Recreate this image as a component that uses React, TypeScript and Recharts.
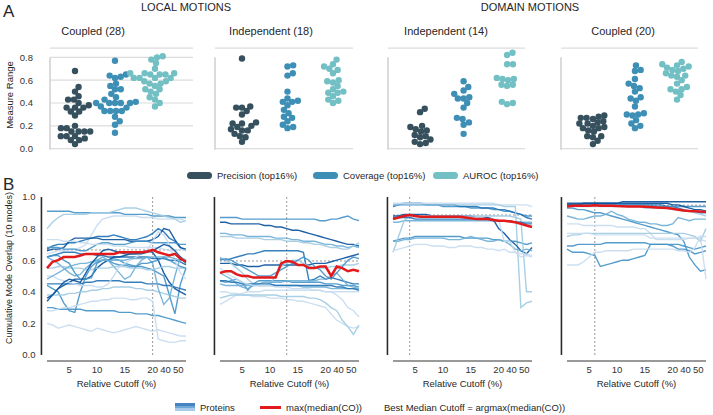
import React from 'react'
import {
  ScatterChart,
  Scatter,
  LineChart,
  Line,
  XAxis,
  YAxis,
  CartesianGrid,
  ReferenceLine,
  Label,
} from 'recharts'

// ---- panel A: measure ranges per protein (beeswarm) ----
const metricNames = ['Precision (top16%)', 'Coverage (top16%)', 'AUROC (top16%)']
const metricColors = ['#36505e', '#3d8fb5', '#72bfc4']
const panelTitles = ['Coupled (28)', 'Independent (18)', 'Independent (14)', 'Coupled (20)']
const topTicks = [0, 0.2, 0.4, 0.6, 0.8]

const localCoupledPrecision = [0.68, 0.54, 0.5, 0.46, 0.43, 0.43, 0.4, 0.38, 0.36, 0.36, 0.36, 0.325, 0.325, 0.29, 0.2, 0.18, 0.18, 0.15, 0.15, 0.15, 0.15, 0.11, 0.11, 0.11, 0.09, 0.075, 0.075, 0.04]
const localCoupledCoverage = [0.77, 0.65, 0.64, 0.63, 0.62, 0.57, 0.55, 0.52, 0.52, 0.48, 0.45, 0.43, 0.41, 0.4, 0.4, 0.4, 0.4, 0.4, 0.37, 0.36, 0.33, 0.33, 0.33, 0.33, 0.28, 0.24, 0.21, 0.14]
const localCoupledAuroc = [0.81, 0.8, 0.78, 0.75, 0.7, 0.66, 0.66, 0.66, 0.65, 0.65, 0.65, 0.62, 0.62, 0.62, 0.62, 0.59, 0.59, 0.57, 0.57, 0.55, 0.52, 0.52, 0.5, 0.48, 0.45, 0.43, 0.4, 0.37]

const localIndepPrecision = [0.79, 0.37, 0.36, 0.36, 0.33, 0.3, 0.23, 0.22, 0.22, 0.2, 0.19, 0.17, 0.16, 0.16, 0.13, 0.11, 0.1, 0.06]
const localIndepCoverage = [0.73, 0.72, 0.66, 0.64, 0.5, 0.44, 0.42, 0.41, 0.41, 0.38, 0.34, 0.31, 0.28, 0.27, 0.24, 0.21, 0.19, 0.18]
const localIndepAuroc = [0.78, 0.74, 0.72, 0.7, 0.69, 0.66, 0.6, 0.59, 0.58, 0.55, 0.52, 0.5, 0.49, 0.49, 0.46, 0.43, 0.42, 0.4]

const domainIndepPrecision = [0.35, 0.32, 0.2, 0.19, 0.17, 0.16, 0.15, 0.12, 0.11, 0.1, 0.08, 0.06, 0.05, 0.04]
const domainIndepCoverage = [0.59, 0.54, 0.51, 0.48, 0.45, 0.44, 0.44, 0.4, 0.36, 0.27, 0.26, 0.23, 0.21, 0.13]
const domainIndepAuroc = [0.84, 0.82, 0.74, 0.74, 0.62, 0.61, 0.61, 0.6, 0.56, 0.56, 0.55, 0.41, 0.4, 0.39]

const domainCoupledPrecision = [0.29, 0.28, 0.27, 0.27, 0.26, 0.24, 0.23, 0.22, 0.22, 0.2, 0.19, 0.18, 0.18, 0.16, 0.15, 0.11, 0.11, 0.1, 0.07, 0.04]
const domainCoupledCoverage = [0.73, 0.69, 0.68, 0.61, 0.57, 0.55, 0.53, 0.5, 0.45, 0.44, 0.42, 0.37, 0.31, 0.3, 0.3, 0.29, 0.25, 0.22, 0.2, 0.18]
const domainCoupledAuroc = [0.76, 0.74, 0.73, 0.72, 0.71, 0.7, 0.69, 0.68, 0.66, 0.64, 0.64, 0.63, 0.6, 0.57, 0.54, 0.52, 0.52, 0.5, 0.47, 0.43]

// ---- panel B: cumulative mode overlap vs relative cutoff (values in %) ----
const cutoffTickIndex = [4, 9, 14, 19, 21.3, 23.6]
const cutoffTickLabels = ['5', '10', '15', '20', '40', '50']
const bottomTicks = [0, 0.2, 0.4, 0.6, 0.8, 1]
const blues = ['#c6dbef', '#9ecae1', '#6baed6', '#4292c6', '#2171b5', '#08519c']

const localCoupledLines = [
  [91, 91, 91, 91, 91, 90, 90, 90, 90, 90, 90, 90, 90, 90, 89, 89, 89, 89, 89, 88, 88, 88, 88, 87, 87, 87],
  [80, 84, 87, 89, 89, 89, 89, 89, 90, 90, 90, 90, 91, 92, 93, 93, 93, 92, 91, 90, 89, 88, 87, 86, 84, 85],
  [64, 65, 66, 66, 67, 67, 68, 70, 76, 82, 86, 87, 88, 88, 88, 88, 88, 87, 87, 87, 86, 86, 86, 86, 86, 85],
  [67, 69, 70, 70, 71, 71, 72, 73, 74, 75, 75, 75, 76, 75, 74, 73, 73, 74, 75, 77, 80, 78, 74, 72, 68, 66],
  [66, 67, 67, 68, 72, 74, 74, 74, 74, 74, 73, 73, 73, 73, 73, 72, 72, 72, 72, 73, 75, 80, 79, 73, 68, 67],
  [68, 68, 68, 67, 67, 67, 66, 66, 68, 70, 71, 71, 70, 70, 70, 71, 72, 72, 72, 71, 71, 71, 71, 71, 70, 70],
  [62, 63, 64, 65, 65, 65, 64, 64, 64, 63, 63, 62, 62, 62, 62, 62, 62, 62, 62, 61, 61, 61, 60, 60, 59, 57],
  [73, 73, 73, 72, 72, 72, 71, 71, 70, 70, 70, 70, 69, 69, 69, 68, 68, 68, 68, 68, 68, 67, 66, 66, 67, 66],
  [44, 42, 40, 33, 28, 27, 40, 50, 56, 59, 60, 60, 61, 60, 58, 57, 56, 56, 55, 54, 52, 50, 38, 26, 45, 55],
  [34, 38, 42, 44, 46, 48, 48, 48, 50, 55, 58, 60, 62, 62, 63, 64, 64, 65, 66, 65, 60, 52, 46, 42, 40, 38],
  [45, 45, 45, 45, 45, 45, 45, 46, 46, 47, 47, 47, 47, 47, 46, 46, 46, 46, 45, 45, 45, 44, 44, 43, 42, 41],
  [38, 38, 38, 38, 39, 39, 40, 40, 41, 41, 42, 42, 43, 43, 43, 43, 42, 42, 41, 41, 40, 39, 38, 37, 36, 36],
  [30, 30, 29, 29, 29, 29, 29, 28, 28, 28, 28, 28, 28, 27, 27, 27, 26, 26, 26, 25, 25, 24, 23, 22, 21, 20],
  [20, 19, 17, 18, 19, 18, 17, 16, 15, 17, 16, 15, 14, 15, 16, 17, 18, 17, 16, 15, 16, 15, 14, 13, 12, 12],
  [28, 28, 29, 30, 30, 31, 32, 33, 34, 34, 35, 35, 36, 36, 36, 35, 35, 36, 36, 34, 10, 9, 8, 8, 9, 9],
  [62, 60, 58, 55, 52, 50, 51, 55, 58, 60, 62, 60, 56, 52, 48, 50, 56, 60, 62, 58, 42, 32, 36, 50, 62, 60],
  [55, 55, 56, 56, 55, 55, 55, 54, 54, 55, 55, 55, 56, 56, 56, 55, 55, 55, 54, 54, 55, 56, 56, 55, 55, 55],
  [62, 63, 63, 60, 58, 52, 48, 48, 49, 58, 60, 60, 58, 57, 57, 56, 56, 58, 58, 59, 60, 62, 60, 58, 56, 55],
  [50, 50, 48, 47, 46, 45, 44, 44, 44, 43, 43, 45, 50, 56, 58, 60, 62, 64, 66, 72, 78, 76, 70, 60, 52, 48],
  [48, 50, 52, 54, 56, 57, 58, 58, 59, 60, 60, 60, 60, 60, 60, 61, 61, 61, 62, 62, 62, 62, 62, 61, 60, 60],
  [36, 38, 42, 46, 48, 47, 46, 52, 58, 62, 66, 67, 66, 65, 64, 64, 64, 64, 65, 66, 68, 70, 69, 66, 62, 58],
]
const localCoupledShades = [3, 1, 0, 4, 5, 3, 4, 0, 3, 5, 4, 1, 3, 0, 0, 2, 1, 3, 0, 2, 5]
const localCoupledMedian = [55, 59, 60, 62, 62, 62, 63, 64, 64, 64, 64, 64, 64, 65, 65, 65, 65, 65, 65.5, 66.5, 65, 64, 63, 64, 61, 59]

const localIndepLines = [
  [87, 87, 87, 87, 86, 86, 86, 86, 86, 86, 86, 86, 86, 86, 86, 86, 86, 86, 85, 85, 86, 86, 87, 88, 86, 85],
  [84, 84, 83, 83, 83, 83, 83, 83, 82, 82, 81, 81, 80, 79, 79, 78, 77, 76, 75, 74, 73, 72, 71, 70, 70, 69],
  [77, 77, 76, 76, 76, 75, 75, 75, 75, 75, 74, 74, 74, 73, 73, 72, 72, 72, 71, 70, 70, 69, 69, 68, 69, 68],
  [75, 75, 75, 74, 74, 74, 74, 74, 73, 73, 73, 73, 72, 72, 72, 71, 71, 70, 70, 69, 68, 68, 67, 67, 69, 71],
  [61, 60, 61, 62, 63, 64, 64, 65, 66, 66, 66, 66, 66, 66, 66, 65, 47, 48, 50, 48, 49, 48, 47, 46, 45, 45],
  [58, 58, 58, 57, 57, 56, 56, 56, 57, 57, 57, 57, 57, 57, 57, 57, 57, 58, 58, 58, 59, 60, 61, 62, 63, 64],
  [47, 46, 47, 48, 46, 41, 45, 47, 47, 47, 47, 47, 47, 46, 46, 46, 46, 46, 46, 45, 45, 45, 44, 44, 44, 43],
  [45, 44, 44, 44, 44, 44, 44, 44, 44, 44, 44, 44, 44, 44, 44, 43, 43, 43, 43, 43, 42, 42, 42, 42, 42, 42],
  [40, 40, 39, 39, 38, 38, 37, 37, 37, 36, 36, 36, 35, 35, 34, 34, 33, 32, 31, 30, 26, 22, 20, 18, 17, 18],
  [32, 34, 36, 38, 39, 40, 40, 40, 41, 41, 41, 41, 41, 41, 41, 41, 41, 41, 41, 40, 40, 40, 40, 40, 40, 40],
  [36, 37, 38, 38, 38, 38, 38, 38, 38, 38, 38, 37, 37, 37, 37, 37, 36, 36, 35, 33, 30, 28, 22, 18, 13, 19],
  [62, 60, 58, 55, 52, 48, 45, 44, 44, 45, 50, 56, 58, 60, 60, 58, 56, 55, 55, 55, 56, 56, 57, 57, 57, 58],
  [52, 50, 48, 45, 43, 42, 44, 45, 46, 46, 46, 46, 47, 47, 47, 47, 47, 47, 48, 48, 50, 52, 48, 44, 43, 42],
  [47, 47, 46, 46, 45, 45, 45, 45, 45, 45, 44, 44, 44, 44, 44, 44, 44, 44, 44, 44, 44, 43, 43, 42, 42, 41],
  [55, 52, 50, 48, 46, 45, 44, 44, 44, 44, 43, 43, 43, 42, 42, 42, 42, 41, 41, 40, 40, 38, 35, 30, 28, 24],
  [60, 61, 60, 58, 56, 54, 52, 50, 50, 50, 52, 54, 56, 58, 60, 62, 60, 56, 54, 50, 48, 52, 56, 60, 62, 61],
]
const localIndepShades = [3, 5, 2, 1, 4, 5, 3, 2, 0, 0, 1, 1, 2, 4, 0, 3]
const localIndepMedian = [52, 53, 53, 51, 50, 50, 49, 49, 49, 49, 49, 58, 59.5, 59, 57, 57, 55, 55, 56, 56, 50, 56, 55, 53, 54, 53]

const domainIndepLines = [
  [95, 95, 95, 95, 95, 95, 95, 95, 95, 94, 94, 94, 94, 94, 93, 93, 93, 93, 92, 92, 91, 91, 90, 89, 88, 88],
  [94, 95, 96, 96, 96, 96, 95, 95, 95, 95, 95, 95, 94, 94, 94, 94, 93, 93, 93, 92, 92, 91, 90, 89, 87, 86],
  [96, 96, 96, 96, 96, 96, 96, 96, 96, 96, 96, 96, 96, 96, 96, 96, 96, 96, 96, 95, 95, 95, 95, 95, 95, 94],
  [95, 95, 95, 95, 95, 95, 95, 95, 95, 95, 95, 95, 95, 95, 95, 95, 95, 95, 95, 95, 94, 94, 94, 30, 33, 34],
  [88, 88, 89, 89, 89, 89, 89, 88, 88, 88, 88, 88, 88, 88, 88, 87, 87, 87, 86, 80, 77, 73, 70, 66, 64, 68],
  [84, 84, 85, 85, 85, 85, 85, 85, 85, 85, 85, 85, 85, 85, 85, 85, 85, 85, 85, 85, 85, 85, 84, 84, 84, 84],
  [72, 73, 74, 74, 75, 75, 75, 75, 75, 75, 75, 75, 75, 74, 74, 74, 74, 74, 73, 73, 72, 72, 72, 71, 70, 71],
  [72, 72, 73, 73, 74, 74, 74, 74, 74, 74, 73, 73, 73, 74, 75, 74, 73, 72, 72, 73, 72, 70, 67, 66, 67, 66],
  [65, 75, 85, 88, 88, 88, 88, 88, 88, 88, 88, 88, 88, 88, 88, 88, 88, 88, 88, 88, 88, 88, 87, 86, 40, 40],
  [66, 67, 68, 69, 70, 70, 70, 69, 69, 69, 68, 68, 69, 69, 69, 68, 68, 67, 67, 66, 67, 65, 65, 62, 63, 62],
  [86, 87, 87, 87, 87, 87, 87, 87, 87, 87, 87, 87, 87, 87, 87, 87, 87, 86, 86, 86, 72, 72, 65, 64, 64, 63],
  [87, 87, 87, 87, 86, 86, 86, 86, 86, 86, 86, 86, 86, 86, 86, 86, 86, 86, 85, 85, 85, 85, 84, 84, 83, 83],
]
const domainIndepShades = [3, 4, 0, 1, 5, 2, 3, 2, 1, 0, 0, 4]
const domainIndepMedian = [86, 87, 88, 88.6, 88, 87.5, 87.5, 87.5, 87.5, 87.5, 87.5, 87.5, 87.5, 87, 86.5, 86, 86, 86, 85.5, 85, 85, 84.5, 84, 83, 82, 81]

const domainCoupledLines = [
  [96, 96, 96, 96, 96, 96, 96, 96, 96, 96, 97, 97, 97, 97, 97, 97, 97, 97, 97, 97, 97, 97, 97, 97, 97, 97],
  [95, 95, 95, 95, 95, 95, 95, 95, 95, 95, 95, 95, 95, 95, 95, 95, 95, 95, 94, 94, 93, 92, 91, 91, 90, 90],
  [95, 95, 95, 95, 95, 95, 95, 95, 95, 95, 95, 95, 95, 95, 95, 95, 94, 94, 94, 94, 94, 94, 94, 94, 94, 94],
  [93, 93, 92, 92, 91, 90, 90, 89, 88, 87, 86, 85, 84, 83, 82, 81, 80, 79, 78, 77, 76, 72, 62, 57, 53, 54],
  [88, 87, 86, 86, 87, 88, 88, 89, 91, 89, 88, 86, 85, 84, 84, 83, 83, 82, 82, 83, 87, 86, 85, 86, 86, 86],
  [83, 83, 83, 82, 82, 82, 82, 82, 82, 81, 81, 81, 81, 80, 80, 77, 73, 73, 73, 73, 73, 73, 74, 74, 73, 72],
  [75, 76, 76, 77, 77, 77, 77, 77, 77, 77, 77, 77, 77, 77, 77, 77, 77, 77, 77, 77, 77, 77, 76, 75, 72, 80],
  [69, 69, 70, 70, 70, 70, 70, 71, 71, 71, 71, 71, 71, 71, 71, 70, 70, 70, 70, 70, 70, 69, 68, 67, 68, 69],
  [67, 65, 65, 65, 64, 63, 56, 57, 58, 59, 60, 60, 61, 62, 63, 70, 70, 70, 70, 69, 67, 67, 66, 64, 65, 66],
  [57, 57, 57, 59, 62, 65, 65, 66, 66, 66, 66, 66, 67, 67, 67, 67, 67, 67, 67, 67, 66, 66, 65, 68, 75, 48],
  [77, 77, 77, 77, 77, 76, 76, 76, 76, 76, 76, 76, 76, 76, 76, 74, 74, 74, 74, 74, 74, 74, 74, 74, 75, 75],
  [95, 95, 95, 96, 96, 96, 96, 96, 96, 96, 96, 96, 96, 96, 96, 96, 96, 96, 96, 95, 95, 94, 93, 92, 92, 91],
  [94, 94, 94, 94, 94, 94, 94, 94, 94, 94, 94, 94, 94, 94, 93, 93, 93, 93, 93, 92, 92, 91, 91, 90, 89, 88],
]
const domainCoupledShades = [5, 4, 3, 3, 2, 0, 1, 3, 3, 0, 0, 5, 1]
const domainCoupledMedian = [94, 94.5, 94.5, 94.5, 94.5, 94.8, 94.5, 94.5, 94.5, 94.3, 94.2, 94, 94, 94, 93.8, 93.6, 93.4, 93.2, 93, 92.5, 92, 91.5, 91.2, 91, 90.8, 90.7]

// ---- layout ----
const FONT = "'Liberation Sans', Arial, Helvetica, sans-serif"
const TEXT = '#262626'
const topPlotLeft = [50, 215, 388, 561]
const topPlotWidth = [143, 138, 137, 137]
const topXDomain = [
  [-0.625, 2.95],
  [-0.593, 2.44],
  [-0.736, 2.41],
  [-0.76, 2.5],
]
const TOP_MAX = 0.88
const TOP_PLOT_TOP = 48.2
const TOP_PLOT_BOTTOM = 148.7
const DOT_R = 3.2
const SWARM_GAP = 5.8
const bottomPlotLeft = [47, 219.5, 392.5, 566.5]
const BOTTOM_W = 139
const Y_AXIS_W = 45

const topPanels = [
  [localCoupledPrecision, localCoupledCoverage, localCoupledAuroc],
  [localIndepPrecision, localIndepCoverage, localIndepAuroc],
  [domainIndepPrecision, domainIndepCoverage, domainIndepAuroc],
  [domainCoupledPrecision, domainCoupledCoverage, domainCoupledAuroc],
]

const bottomPanels = [
  { lines: localCoupledLines, shades: localCoupledShades, median: localCoupledMedian },
  { lines: localIndepLines, shades: localIndepShades, median: localIndepMedian },
  { lines: domainIndepLines, shades: domainIndepShades, median: domainIndepMedian },
  { lines: domainCoupledLines, shades: domainCoupledShades, median: domainCoupledMedian },
]

// seaborn-like swarm: offsets in px so dots don't overlap
function swarmOffsets(values: number[], pxPerUnit: number, d: number) {
  const order = values.map((_, i) => i).sort((a, b) => values[a] - values[b])
  const placed: { x: number; y: number }[] = []
  const out = new Array(values.length).fill(0)
  for (const i of order) {
    const y = values[i] * pxPerUnit
    const near = placed.filter((p) => Math.abs(p.y - y) < d)
    const cands = [0]
    near.forEach((p) => {
      const dx = Math.sqrt(d * d - (p.y - y) ** 2)
      cands.push(p.x + dx, p.x - dx)
    })
    cands.sort((a, b) => Math.abs(a) - Math.abs(b))
    const x = cands.find((c) => near.every((p) => (p.x - c) ** 2 + (p.y - y) ** 2 >= d * d - 0.05)) ?? 0
    placed.push({ x, y })
    out[i] = x
  }
  return out
}

function SwarmPanel({ idx }: { idx: number }) {
  const pxPerUnit = (TOP_PLOT_BOTTOM - TOP_PLOT_TOP) / TOP_MAX
  const [lo, hi] = topXDomain[idx]
  const series = topPanels[idx].map((vals, m) => {
    const off = swarmOffsets(vals, pxPerUnit, SWARM_GAP)
    return vals.map((v, i) => ({ x: m, y: v, dx: off[i] }))
  })
  return (
    <div style={{ position: 'absolute', left: topPlotLeft[idx] - Y_AXIS_W, top: 0 }}>
      <ScatterChart
        width={Y_AXIS_W + topPlotWidth[idx] + 2}
        height={TOP_PLOT_BOTTOM + 8}
        margin={{ top: TOP_PLOT_TOP, right: 2, bottom: 8, left: 0 }}
      >
        <CartesianGrid vertical={false} stroke="#dcdcdc" strokeWidth={1.2} />
        <XAxis type="number" dataKey="x" domain={[lo, hi]} hide />
        <YAxis
          type="number"
          dataKey="y"
          domain={[0, TOP_MAX]}
          ticks={topTicks}
          interval={0}
          width={Y_AXIS_W}
          axisLine={false}
          tickLine={false}
          tickSize={0}
          tickMargin={17}
          tick={idx === 0 ? { fontSize: 9.5, fill: '#333', fontFamily: FONT } : false}
          tickFormatter={(v: number) => v.toFixed(1)}
        />
        <ReferenceLine
          segment={[{ x: lo, y: -0.01 }, { x: lo, y: 0.8 }]}
          stroke="#cfcfcf"
          strokeWidth={1.5}
          ifOverflow="visible"
        />
        {series.map((pts, m) => (
          <Scatter
            key={m}
            data={pts}
            isAnimationActive={false}
            shape={(p: any) => (
              <circle cx={p.cx + p.payload.dx} cy={p.cy} r={DOT_R} fill={metricColors[m]} />
            )}
          />
        ))}
      </ScatterChart>
    </div>
  )
}

function OverlapPanel({ idx }: { idx: number }) {
  const { lines, shades, median } = bottomPanels[idx]
  const rows = median.map((m, i) => {
    const row: Record<string, number> = { x: i, med: m / 100 }
    lines.forEach((l, j) => {
      row['l' + j] = l[i] / 100
    })
    return row
  })
  const best = median.indexOf(Math.max(...median))
  const bestVal = median[best] / 100
  return (
    <div style={{ position: 'absolute', left: bottomPlotLeft[idx] - Y_AXIS_W, top: 190 }}>
      <LineChart
        width={Y_AXIS_W + BOTTOM_W + 6}
        height={201}
        data={rows}
        margin={{ top: 7, right: 6, bottom: 0, left: 0 }}
      >
        <XAxis
          type="number"
          dataKey="x"
          domain={[0, 25]}
          ticks={cutoffTickIndex}
          interval={0}
          height={30}
          tickLine={false}
          tickSize={0}
          tickMargin={5}
          stroke="#777"
          strokeWidth={1.5}
          tick={{ fontSize: 9.5, fill: '#333', fontFamily: FONT }}
          tickFormatter={(v: number) => cutoffTickLabels[cutoffTickIndex.indexOf(v)]}
        >
          <Label
            value="Relative Cutoff (%)"
            position="insideBottom"
            offset={4.5}
            style={{ fontSize: 9.5, fill: TEXT, fontFamily: FONT }}
          />
        </XAxis>
        <YAxis
          type="number"
          domain={[0, 1]}
          ticks={bottomTicks}
          interval={0}
          padding={{ top: 0, bottom: 6 }}
          width={Y_AXIS_W}
          axisLine={false}
          tickLine={false}
          tickSize={0}
          tickMargin={11.5}
          tick={idx === 0 ? { fontSize: 9.5, fill: '#333', fontFamily: FONT } : false}
          tickFormatter={(v: number) => v.toFixed(1)}
        />
        <ReferenceLine
          segment={[{ x: -1, y: 0 }, { x: -1, y: 1 }]}
          stroke="#2b2b2b"
          strokeWidth={1.6}
          ifOverflow="visible"
        />
        <ReferenceLine y={bestVal} stroke="#9a9a9a" strokeDasharray="2 2" strokeWidth={1} />
        <ReferenceLine
          segment={[{ x: best, y: 0 }, { x: best, y: 1 }]}
          stroke="#9a9a9a"
          strokeDasharray="2 2"
          strokeWidth={1}
        />
        {lines.map((_, j) => (
          <Line
            key={j}
            type="linear"
            dataKey={'l' + j}
            stroke={blues[shades[j]]}
            strokeWidth={1.4}
            strokeOpacity={0.9}
            dot={false}
            activeDot={false}
            isAnimationActive={false}
          />
        ))}
        <Line
          type="linear"
          dataKey="med"
          stroke="#e31a1c"
          strokeWidth={2.5}
          dot={false}
          activeDot={false}
          isAnimationActive={false}
        />
      </LineChart>
    </div>
  )
}

const abs = (left: number, top: number, extra: React.CSSProperties = {}): React.CSSProperties => ({
  position: 'absolute',
  left,
  top,
  whiteSpace: 'nowrap',
  ...extra,
})

export default function App() {
  const titleCenters = [93, 271, 446, 623]
  const legendA = [187, 313, 433]
  return (
    <div
      style={{
        position: 'absolute',
        left: 0,
        top: 0,
        width: 713,
        height: 415,
        background: '#fff',
        fontFamily: FONT,
        color: TEXT,
        overflow: 'hidden',
      }}
    >
      <div style={abs(3, 3, { fontSize: 17, lineHeight: '17px' })}>A</div>
      <div style={abs(3, 176, { fontSize: 17, lineHeight: '17px' })}>B</div>
      <div style={abs(186, 2, { fontSize: 11, lineHeight: '11px', transform: 'translateX(-50%)' })}>LOCAL MOTIONS</div>
      <div style={abs(530, 2, { fontSize: 11, lineHeight: '11px', transform: 'translateX(-50%)' })}>DOMAIN MOTIONS</div>
      {panelTitles.map((t, i) => (
        <div key={t} style={abs(titleCenters[i], 26, { fontSize: 11, lineHeight: '11px', transform: 'translateX(-50%)' })}>
          {t}
        </div>
      ))}
      <div style={abs(9, 95, { fontSize: 9.5, transform: 'translate(-50%, -50%) rotate(-90deg)' })}>Measure Range</div>
      <div style={abs(9, 268, { fontSize: 9, transform: 'translate(-50%, -50%) rotate(-90deg)' })}>
        Cumulative Mode Overlap (10 modes)
      </div>

      {topPanels.map((_, i) => (
        <SwarmPanel key={i} idx={i} />
      ))}
      {bottomPanels.map((_, i) => (
        <OverlapPanel key={i} idx={i} />
      ))}

      {metricNames.map((n, i) => (
        <React.Fragment key={n}>
          <div
            style={abs(legendA[i], 172, {
              width: 25,
              height: 7,
              borderRadius: 4,
              background: metricColors[i],
            })}
          />
          <div style={abs(legendA[i] + 30, 170, { fontSize: 9.5, lineHeight: '11px' })}>{n}</div>
        </React.Fragment>
      ))}

      <div style={abs(175, 403, { width: 20, height: 8, display: 'flex', flexDirection: 'column' })}>
        <div style={{ flex: 1, background: '#4a84c0' }} />
        <div style={{ flex: 1, background: '#6fa7d6' }} />
        <div style={{ flex: 1, background: '#a9cbe9' }} />
      </div>
      <div style={abs(200, 402, { fontSize: 9.5, lineHeight: '11px' })}>Proteins</div>
      <div style={abs(260, 406, { width: 21, height: 2.5, background: '#e31a1c' })} />
      <div style={abs(286, 402, { fontSize: 9.5, lineHeight: '11px' })}>max(median(CO))</div>
      <div style={abs(384, 402, { fontSize: 9.5, lineHeight: '11px' })}>Best Median Cutoff = argmax(median(CO))</div>
    </div>
  )
}
